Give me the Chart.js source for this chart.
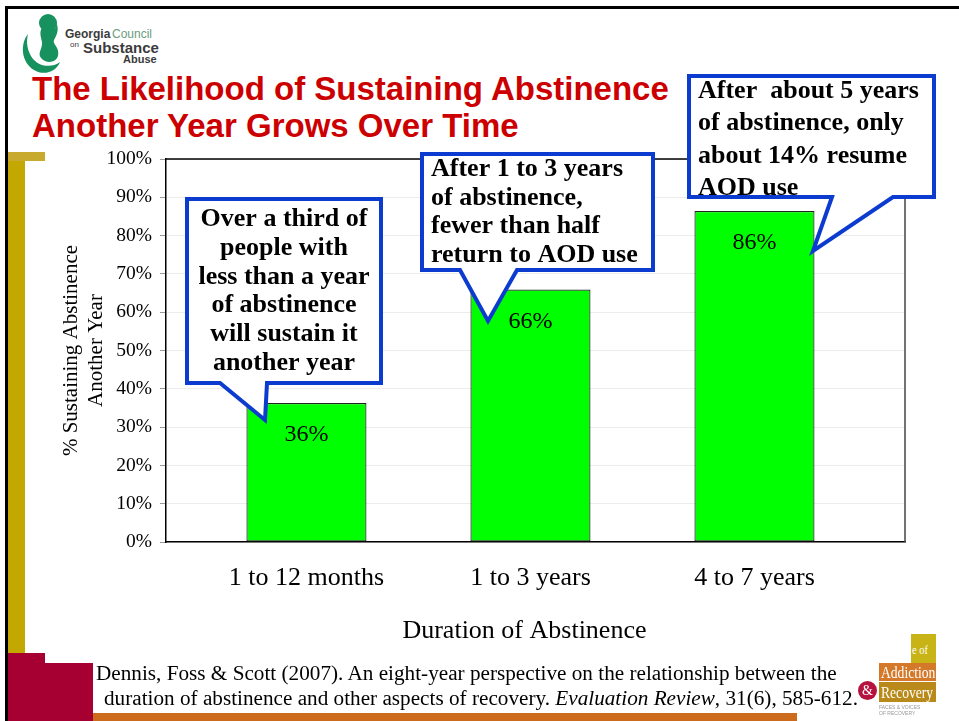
<!DOCTYPE html>
<html>
<head>
<meta charset="utf-8">
<script src="https://cdn.jsdelivr.net/npm/chart.js@4.4.1/dist/chart.umd.min.js"></script>
<style>
  html, body { margin: 0; padding: 0; background: #fff; }
  body { width: 959px; height: 721px; position: relative; overflow: hidden; font-family: "Liberation Serif", serif; }
  .abs { position: absolute; white-space: nowrap; }
  #frame { left: 5px; top: 6px; width: 960px; height: 720px; border-top: 3px solid #000; border-left: 3px solid #000; }
  #goldTop { left: 8px; top: 152px; width: 37px; height: 9px; background: #c8ab2e; }
  #goldBar { left: 8px; top: 152px; width: 17px; height: 501px; background: #c4a802; }
  #crimsonA { left: 8px; top: 653px; width: 37px; height: 68px; background: #a60033; }
  #crimsonB { left: 45px; top: 663px; width: 48px; height: 58px; background: #a60033; }
  #orangeBar { left: 93px; top: 713px; width: 704px; height: 8px; background: #cd6b1d; }
  .logo { font-family: "Liberation Sans", sans-serif; line-height: 1; color: #3b3b3b; }
  .title { left: 32px; font-family: "Liberation Sans", sans-serif; font-weight: bold; font-size: 33px; line-height: 38px; color: #cc0000; }
  .cite { font-size: 20px; line-height: 25px; color: #000; transform: scaleX(1.06); transform-origin: 0 0; }
  #chart { position: absolute; left: 0; top: 0; }
  .arBox { font-family: "Liberation Serif", serif; color: #fff; line-height: 1; overflow: hidden; }
  .arBox span { position: absolute; transform: scaleX(0.8); transform-origin: 0 0; }
</style>
</head>
<body>
<div id="frame" class="abs"></div>
<div id="goldBar" class="abs"></div>
<div id="goldTop" class="abs"></div>
<div id="crimsonA" class="abs"></div>
<div id="crimsonB" class="abs"></div>
<div id="orangeBar" class="abs"></div>

<!-- Georgia Council logo -->
<svg class="abs" style="left:18px;top:12px" width="48" height="64" viewBox="0 0 48 64">
  <path d="M10 22 C2 32 3 50 16 58 C26 64 38 60 42 50 C34 56 22 55 15 47 C9 39 8 30 10 22 Z" fill="#17915d"/>
  <circle cx="30" cy="11" r="9" fill="#17915d"/>
  <path d="M24 16 C30 22 40 18 38 10 C42 18 38 24 36 28 C34 32 42 35 40 44 C38 51 28 52 23 46 C19 41 25 36 24 30 C23 25 21 20 24 16 Z" fill="#17915d"/>
</svg>
<div class="abs logo" style="left:65px;top:28px;font-size:12px;font-weight:bold;">Georgia</div>
<div class="abs logo" style="left:112px;top:28px;font-size:12px;color:#6a9c80;">Council</div>
<div class="abs logo" style="left:70px;top:41px;font-size:8px;">on</div>
<div class="abs logo" style="left:83px;top:40px;font-size:15px;font-weight:bold;">Substance</div>
<div class="abs logo" style="left:123px;top:54px;font-size:11px;font-weight:bold;">Abuse</div>

<div class="abs title" style="top:70px;">The Likelihood of Sustaining Abstinence</div>
<div class="abs title" style="top:107px;">Another Year Grows Over Time</div>

<canvas id="chart" width="959" height="721"></canvas>

<div class="abs cite" style="left:96px;top:661px;">Dennis, Foss &amp; Scott (2007). An eight-year perspective on the relationship between the</div>
<div class="abs cite" style="left:104px;top:686px;">duration of abstinence and other aspects of recovery. <i>Evaluation Review</i>, 31(6), 585-612.</div>

<!-- Faces & Voices of Addiction Recovery logo -->
<div class="abs arBox" style="left:911px;top:634px;width:25px;height:29px;background:#c8b416;font-size:13px;"><span style="left:1px;top:9px;">e of</span></div>
<div class="abs arBox" style="left:879px;top:663px;width:57px;height:18px;background:#d4782a;font-size:17px;"><span style="left:2px;top:1px;">Addiction</span></div>
<div class="abs arBox" style="left:879px;top:682px;width:57px;height:20px;background:#b98a1a;font-size:17px;"><span style="left:2px;top:2px;">Recovery</span></div>
<div class="abs" style="left:879px;top:704px;font-family:'Liberation Sans',sans-serif;font-size:5px;line-height:6px;color:#999;">FACES &amp; VOICES<br>OF RECOVERY</div>
<div class="abs" style="left:858px;top:681px;width:19px;height:19px;border-radius:50%;background:#b5123f;color:#fff;font-size:14px;line-height:19px;text-align:center;">&amp;</div>

<script>
// Source: Dennis, Foss & Scott (2007)
const categories = ["1 to 12 months", "1 to 3 years", "4 to 7 years"];
const sustainPct = [36.3, 65.9, 86.4];
const yTitle = ["% Sustaining Abstinence", "Another Year"];
const xTitle = "Duration of Abstinence";

const SERIF = "'Liberation Serif', serif";
Chart.defaults.font.family = SERIF;
Chart.defaults.color = "#000";

// Speech-bubble annotations (box: left, top, right, bottom; pointer base and tip)
const callouts = [
    {
        box: [187, 199, 381, 383], base: [220, 267], tip: [265, 420],
        align: "center", textX: 284, firstBaseline: 226, step: 28.8,
        lines: ["Over a third of", "people with", "less than a year", "of abstinence", "will sustain it", "another year"]
    },
    {
        box: [422, 154, 653, 270], base: [460, 517], tip: [488, 321],
        align: "left", textX: 431, firstBaseline: 176, step: 28.7,
        lines: ["After 1 to 3 years", "of abstinence,", "fewer than half", "return to AOD use"]
    },
    {
        box: [689, 76, 934, 197], base: [832, 893], tip: [813, 251],
        align: "left", textX: 698, firstBaseline: 98, step: 32.3,
        lines: ["After  about 5 years", "of abstinence, only", "about 14% resume", "AOD use"]
    }
];

function drawCallout(ctx, c) {
    const [l, t, r, b] = c.box;
    ctx.beginPath();
    ctx.moveTo(l, t);
    ctx.lineTo(r, t);
    ctx.lineTo(r, b);
    ctx.lineTo(c.base[1], b);
    ctx.lineTo(c.tip[0], c.tip[1]);
    ctx.lineTo(c.base[0], b);
    ctx.lineTo(l, b);
    ctx.closePath();
    ctx.fillStyle = "#fff";
    ctx.fill();
    ctx.lineWidth = 4;
    ctx.lineJoin = "miter";
    ctx.strokeStyle = "#0b3ccf";
    ctx.stroke();

    ctx.fillStyle = "#000";
    ctx.font = "bold 26px " + SERIF;
    ctx.textAlign = c.align;
    ctx.textBaseline = "alphabetic";
    c.lines.forEach((s, i) => ctx.fillText(s, c.textX, c.firstBaseline + i * c.step));
}

const slideDecor = {
    id: "slideDecor",
    afterDraw(chart) {
        const { ctx, chartArea: a, scales: { x } } = chart;
        ctx.save();

        // top and right edges of the plot box
        ctx.lineWidth = 1.5;
        ctx.strokeStyle = "#000";
        ctx.beginPath();
        ctx.moveTo(a.left, a.top);
        ctx.lineTo(a.right, a.top);
        ctx.stroke();
        ctx.strokeStyle = "#444";
        ctx.beginPath();
        ctx.moveTo(a.right, a.top);
        ctx.lineTo(a.right, a.bottom);
        ctx.stroke();

        // percentage inside each bar
        ctx.fillStyle = "#000";
        ctx.font = "24px " + SERIF;
        ctx.textAlign = "center";
        ctx.textBaseline = "alphabetic";
        chart.getDatasetMeta(0).data.forEach((bar, i) => {
            ctx.fillText(Math.round(sustainPct[i]) + "%", bar.x, bar.y + 38);
        });

        // x axis title
        ctx.font = "26px " + SERIF;
        ctx.fillText(xTitle, x.getPixelForValue(1) - 6, 638);

        callouts.forEach(c => drawCallout(ctx, c));
        ctx.restore();
    }
};

new Chart(document.getElementById("chart"), {
    type: "bar",
    data: {
        datasets: [{
            data: categories.map((c, i) => ({ x: i, y: sustainPct[i] })),
            backgroundColor: "#00ff00",
            borderColor: "#222",
            borderWidth: 1.2,
            borderSkipped: false,
            barPercentage: 0.536,
            categoryPercentage: 1
        }]
    },
    options: {
        responsive: false,
        animation: false,
        layout: { padding: { top: 159, right: 54, bottom: 79, left: 0 } },
        plugins: { legend: { display: false }, tooltip: { enabled: false } },
        scales: {
            x: {
                type: "linear",
                offset: false,
                min: -0.627,
                max: 2.672,
                afterBuildTicks: s => { s.ticks = categories.map((c, i) => ({ value: i })); },
                afterFit: s => { s.height = 100; },
                ticks: {
                    callback: v => categories[v],
                    font: { size: 26 },
                    padding: 21,
                    maxRotation: 0,
                    autoSkip: false
                },
                grid: { display: false, drawTicks: false },
                border: { color: "#000", width: 1.5 }
            },
            y: {
                min: 0,
                max: 100,
                afterFit: s => { s.width = 166; },
                ticks: {
                    stepSize: 10,
                    callback: v => v + "%",
                    font: { size: 19.5 },
                    padding: 8
                },
                grid: { color: "#ececec", tickColor: "#999", tickLength: 6 },
                border: { color: "#000", width: 1.5 },
                title: {
                    display: true,
                    text: yTitle,
                    font: { size: 21 },
                    padding: { top: 59 }
                }
            }
        }
    },
    plugins: [slideDecor]
});
</script>
</body>
</html>
